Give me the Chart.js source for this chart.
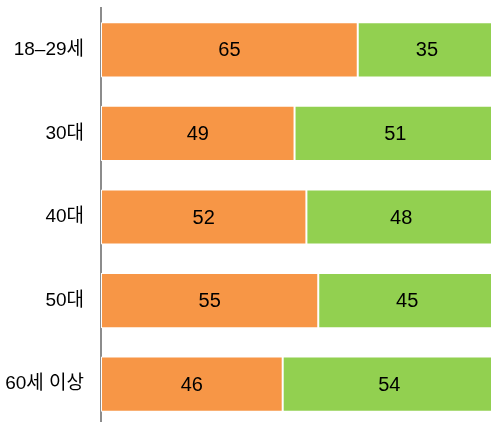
<!DOCTYPE html>
<html>
<head>
<meta charset="utf-8">
<script src="https://cdn.jsdelivr.net/npm/chart.js@4"></script>
<style>
html,body{margin:0;padding:0;background:#fff;overflow:hidden;width:491px;height:422px;}
#wrap{position:absolute;left:0;top:0;width:497px;height:426px;}
</style>
</head>
<body>
<div id="wrap"><canvas id="c" width="497" height="426"></canvas></div>
<script>
const categories = ['18–29세', '30대', '40대', '50대', '60세 이상'];
const seriesA = [65, 49, 52, 55, 46];
const seriesB = [35, 51, 48, 45, 54];
const colorA = '#F79646';
const colorB = '#92D050';
const FONT = "'Liberation Sans', 'Noto Sans CJK KR', sans-serif";

const labelPlugin = {
  id: 'segLabels',
  afterDatasetsDraw(chart) {
    const ctx = chart.ctx;
    ctx.save();
    ctx.font = '20px ' + FONT;
    ctx.fillStyle = '#000';
    ctx.textAlign = 'center';
    ctx.textBaseline = 'middle';
    chart.data.datasets.forEach((ds, di) => {
      chart.getDatasetMeta(di).data.forEach((bar, i) => {
        const p = bar.getProps(['x', 'base', 'y'], true);
        ctx.fillText(String(ds.data[i]), (p.x + p.base) / 2, p.y + 1);
      });
    });
    ctx.restore();
  }
};

new Chart(document.getElementById('c'), {
  type: 'bar',
  data: {
    labels: categories,
    datasets: [
      { data: seriesA, backgroundColor: colorA, borderColor: '#fff', borderWidth: 1, borderSkipped: false },
      { data: seriesB, backgroundColor: colorB, borderColor: '#fff', borderWidth: 1, borderSkipped: false }
    ]
  },
  options: {
    indexAxis: 'y',
    responsive: false,
    animation: false,
    layout: { padding: { top: 8, right: 1, bottom: 0, left: 0 } },
    datasets: { bar: { categoryPercentage: 1, barPercentage: 0.66 } },
    plugins: { legend: { display: false }, tooltip: { enabled: false } },
    scales: {
      x: { stacked: true, min: 0, max: 100, display: false },
      y: {
        stacked: true,
        afterFit(s) { s.width = 101; s.paddingTop = 0; s.paddingBottom = 0; },
        grid: { display: false, drawTicks: false },
        border: { display: true, color: '#8c8c8c', width: 2 },
        ticks: { color: '#000', padding: 17, font: { family: FONT, size: 19 } }
      }
    }
  },
  plugins: [labelPlugin]
});
</script>
</body>
</html>
